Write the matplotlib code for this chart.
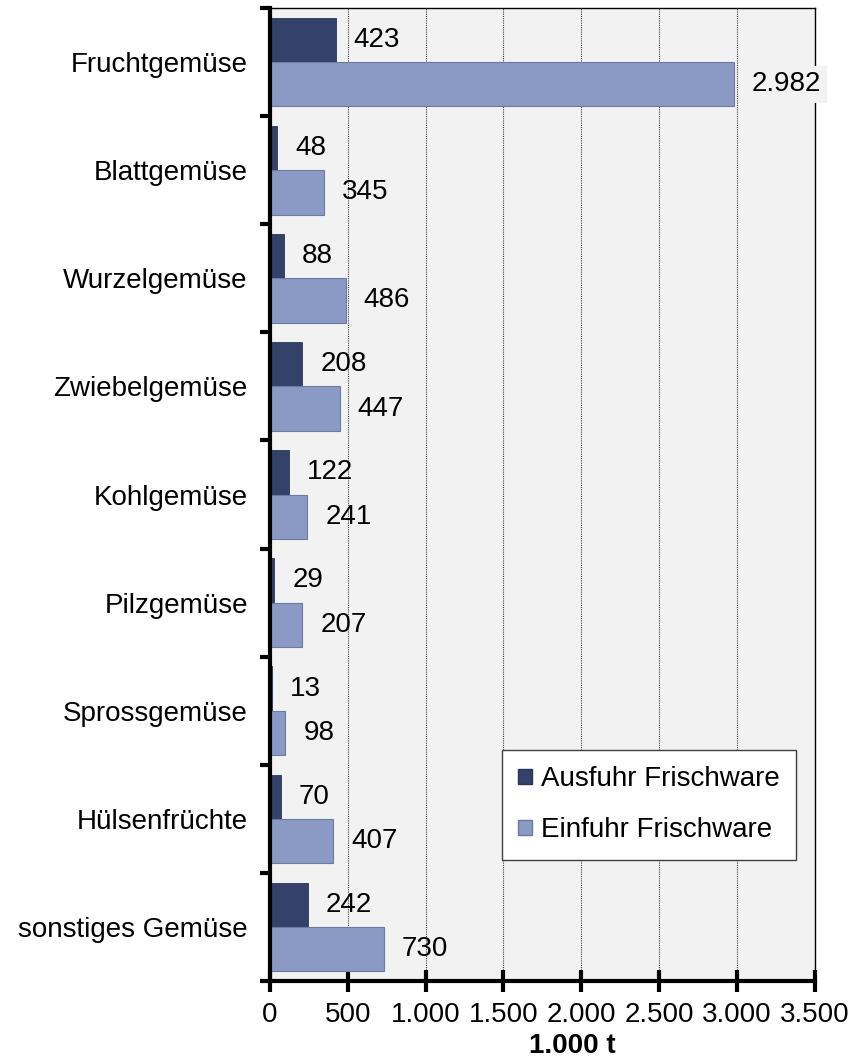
import numpy as np
import matplotlib
matplotlib.use("Agg")
import matplotlib.pyplot as plt
from matplotlib.patches import Patch

# Daten
categories = ["Fruchtgemüse", "Blattgemüse", "Wurzelgemüse", "Zwiebelgemüse",
              "Kohlgemüse", "Pilzgemüse", "Sprossgemüse", "Hülsenfrüchte",
              "sonstiges Gemüse"]
ausfuhr = [423, 48, 88, 208, 122, 29, 13, 70, 242]
einfuhr = [2982, 345, 486, 447, 241, 207, 98, 407, 730]
xticks = [0, 500, 1000, 1500, 2000, 2500, 3000, 3500]

plt.rcParams['font.family'] = ['Liberation Sans', 'DejaVu Sans']
FS = 20

dark = "#344169"
light = "#8A9AC5"


def fmt(v):
    return f"{v:,}".replace(",", ".")


fig = plt.figure(figsize=(8.53, 10.57), dpi=100)
ax = fig.add_axes([0.3165, 0.0719, 0.955 - 0.3165, 0.9924 - 0.0719])
ax.set_facecolor("#F2F2F2")

n = len(categories)
y = np.arange(n)
h = 0.41

ax.barh(y - h / 2, ausfuhr, height=h, color=dark, edgecolor="#2A3556",
        linewidth=0.6, zorder=3, label="Ausfuhr Frischware")
ax.barh(y + h / 2, einfuhr, height=h, color=light, edgecolor="#6A7AA0",
        linewidth=0.8, zorder=3, label="Einfuhr Frischware")

for i in range(n):
    ax.annotate(fmt(ausfuhr[i]), (ausfuhr[i], y[i] - h / 2), xytext=(13, 0),
                textcoords="offset points", va="center", ha="left",
                fontsize=FS, zorder=5)
    bbox = None
    if einfuhr[i] > 2500:
        bbox = dict(boxstyle="square,pad=0.2", fc="#F2F2F2", ec="none")
    ax.annotate(fmt(einfuhr[i]), (einfuhr[i], y[i] + h / 2), xytext=(13, 0),
                textcoords="offset points", va="center", ha="left",
                fontsize=FS, zorder=5, bbox=bbox, annotation_clip=False)

ax.set_ylim(n - 0.5, -0.5)
ax.set_xlim(0, 3500)

# Achsen
ax.set_yticks(y)
ax.set_yticklabels(categories, fontsize=FS)
ax.set_yticks(np.arange(n + 1) - 0.5, minor=True)
ax.tick_params(axis="y", which="major", length=0, pad=16)
ax.tick_params(axis="y", which="minor", length=7, width=3, direction="out")

ax.set_xticks(xticks)
ax.set_xticklabels([fmt(v) for v in xticks], fontsize=FS)
ax.tick_params(axis="x", which="major", length=16, width=3,
               direction="inout", pad=7)

ax.grid(axis="x", color="#404040", linestyle=(0, (1, 1)), linewidth=0.8,
        zorder=1)

for s in ["left", "bottom"]:
    ax.spines[s].set_linewidth(3)
    ax.spines[s].set_zorder(6)
for s in ["top", "right"]:
    ax.spines[s].set_linewidth(1)
    ax.spines[s].set_color("black")

ax.set_xlabel("1.000 t", fontsize=FS, fontweight="bold")
ax.xaxis.set_label_coords(0.555, -0.053)

handles = [Patch(facecolor=dark, edgecolor="#2A3556", label="Ausfuhr Frischware"),
           Patch(facecolor=light, edgecolor="#6A7AA0", label="Einfuhr Frischware")]
leg = ax.legend(handles=handles, loc="lower left",
                bbox_to_anchor=((502 - 270) / 545, (981 - 860) / 973),
                fontsize=FS, frameon=True, fancybox=False, framealpha=1,
                edgecolor="#404040", handlelength=0.5, handleheight=0.5,
                handletextpad=0.3, labelspacing=0.9, borderpad=0.6,
                borderaxespad=0)
leg.get_frame().set_linewidth(1)
leg.set_zorder(7)

fig.savefig("out.png", dpi=100)
